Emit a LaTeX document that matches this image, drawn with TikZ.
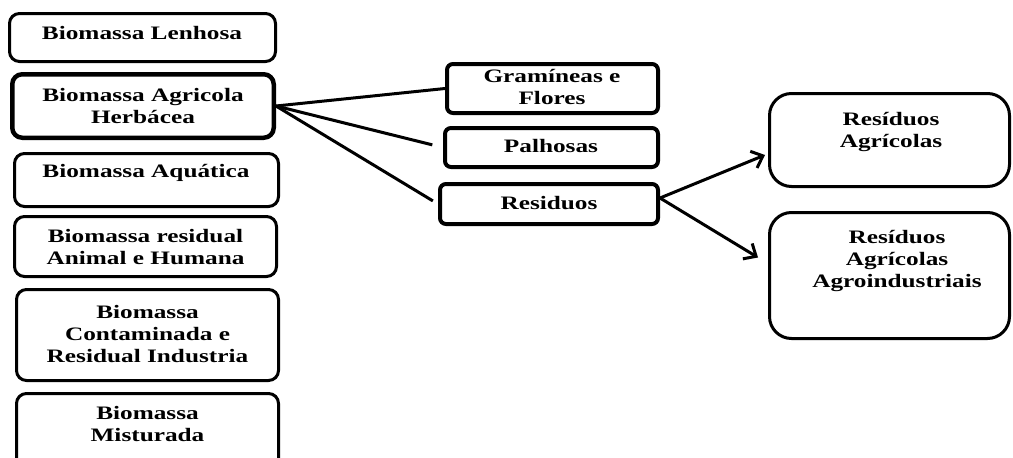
\documentclass[tikz,border=0pt]{standalone}
\usepackage{fontspec}
\setmainfont{Liberation Serif}[FakeStretch=1.33]
\usetikzlibrary{arrows.meta}

\begin{document}
\begin{tikzpicture}[x=1pt, y=-1pt,
  frame/.style={draw=black, inner sep=0pt, line width=3pt, rounded corners=10pt},
  thickframe/.style={frame, line width=4.5pt},
  midframe/.style={frame, line width=4pt, rounded corners=6pt},
  bigframe/.style={frame, line width=3pt, rounded corners=22pt},
  txt/.style={align=center, inner sep=0pt, font=\bfseries\fontsize{19}{21.7}\selectfont},
  link/.style={line width=3pt},
  arrowlink/.style={line width=3pt, -{Straight Barb[length=10pt, width=18pt, line width=3pt]}}
]
\useasboundingbox (0,0) rectangle (1013,458);
\clip (0,0) rectangle (1013,458);

% left column of biomass classes
\node[frame, minimum width=266pt, minimum height=48pt] (lenhosa) at (142.5,37.5) {};
\node[txt] (lenhosa-t) at (142,33) {Biomassa Lenhosa};

\node[thickframe, minimum width=261.5pt, minimum height=63.5pt] (herb) at (143,106) {};
\node[txt] (herb-t) at (143,106) {Biomassa Agricola\\Herbácea};

\node[frame, minimum width=264pt, minimum height=53pt] (aqua) at (146.5,180) {};
\node[txt] (aqua-t) at (146,173) {Biomassa Aquática};

\node[frame, minimum width=262pt, minimum height=60pt] (animal) at (145.5,246.5) {};
\node[txt] (animal-t) at (145.5,247) {Biomassa residual\\Animal e Humana};

\node[frame, minimum width=262pt, minimum height=91pt] (contam) at (147.5,335) {};
\node[txt] (contam-t) at (147.5,334) {Biomassa\\Contaminada e\\Residual Industria};

\node[frame, minimum width=262pt, minimum height=75pt] (mist) at (147.5,431) {};
\node[txt] (mist-t) at (147.5,424) {Biomassa\\Misturada};

% middle column
\node[midframe, minimum width=211pt, minimum height=49pt] (gram) at (552.5,88.5) {};
\node[txt] (gram-t) at (552,87) {Gramíneas e\\Flores};

\node[midframe, minimum width=213pt, minimum height=39pt] (palh) at (551.5,147.5) {};
\node[txt] (palh-t) at (551,146) {Palhosas};

\node[midframe, minimum width=218pt, minimum height=40pt] (resid) at (549,204) {};
\node[txt] (resid-t) at (549,203) {Residuos};

% right column
\node[bigframe, minimum width=240pt, minimum height=93pt] (ragr) at (889.5,140) {};
\node[txt] (ragr-t) at (891,132) {Resíduos\\Agrícolas};

\node[bigframe, minimum width=240pt, minimum height=126pt] (rind) at (889.5,275.5) {};
\node[txt] (rind-t) at (897,261) {Resíduos\\Agrícolas\\Agroindustriais};

% connectors
\draw[link] (herb.east) -- (gram.west);
\draw[link, shorten >=11pt] (herb.east) -- (palh.west);
\draw[link, shorten >=6pt] (herb.east) -- (resid.west);

\draw[arrowlink] ([yshift=6pt]resid.east) -- ([xshift=-3pt, yshift=-15pt]ragr.west);
\draw[arrowlink] ([yshift=6pt]resid.east) -- ([xshift=-10pt, yshift=18pt]rind.west);
\end{tikzpicture}
\end{document}
